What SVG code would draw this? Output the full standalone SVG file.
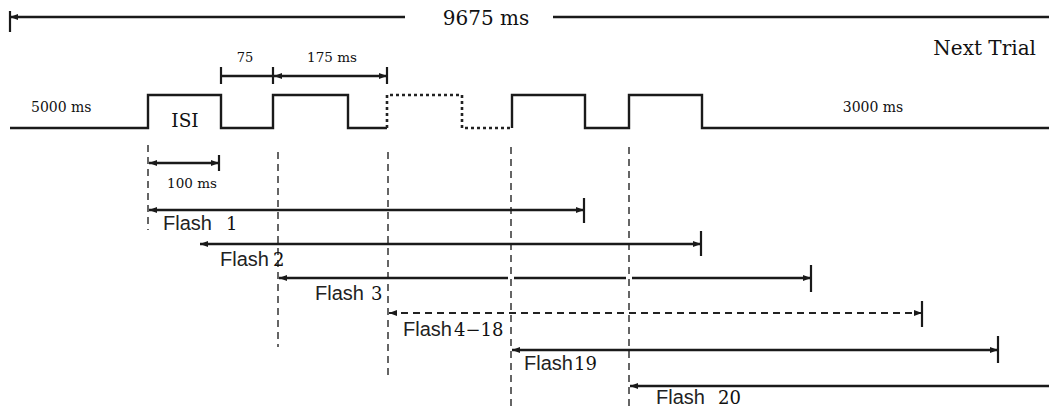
<svg xmlns="http://www.w3.org/2000/svg" width="1049" height="408" viewBox="0 0 1049 408">
<style>
.ln{stroke:#1a1a1a;stroke-width:2.3;fill:none}
.tk{stroke:#1a1a1a;stroke-width:2.2}
.wave{stroke:#1a1a1a;stroke-width:2.4;fill:none}
.dot{stroke:#222;stroke-width:2.6;fill:none;stroke-dasharray:3 3}
.vd{stroke:#333;stroke-width:1.5;stroke-dasharray:7 5}
.dl{stroke:#222;stroke-width:2;fill:none;stroke-dasharray:7 5}
.sf{font-family:"DejaVu Serif","Liberation Serif",serif;fill:#111}
.ss{font-family:"Liberation Sans",Arial,sans-serif;fill:#222;font-size:20px}
.nd{font-family:"DejaVu Serif","Liberation Serif",serif;fill:#111;font-size:18px}
</style>
<defs>
<marker id="ah" viewBox="0 0 8 6" refX="8" refY="3" markerWidth="8" markerHeight="6" markerUnits="userSpaceOnUse" orient="auto-start-reverse">
<path d="M0,0 L8,3 L0,6 z" fill="#1a1a1a"/>
</marker>
</defs>
<rect width="1049" height="408" fill="#fff"/>

<g id="total-span">
<line class="tk" x1="10" y1="11" x2="10" y2="32"/>
<line class="ln" x1="10" y1="17" x2="405" y2="17" marker-start="url(#ah)"/>
<line class="ln" x1="553" y1="17" x2="1049" y2="17"/>
<text class="sf" x="486" y="25" font-size="20" text-anchor="middle">9675 ms</text>
</g>
<g id="next-trial"><text class="sf" x="1036" y="55" font-size="20" text-anchor="end">Next Trial</text></g>

<g id="waveform">
<polyline class="wave" points="10,128 148,128 148,95 221,95 221,128 273,128 273,95 348,95 348,128 387,128"/>
<polyline class="dot" points="387,128 387,95 462,95 462,128 511,128"/>
<polyline class="wave" points="512,128 512,95 585,95 585,128 629,128 629,95 702,95 702,128 1049,128"/>
<text class="sf" x="31" y="112" font-size="14">5000 ms</text>
<text class="sf" x="185" y="127" font-size="18.5" text-anchor="middle">ISI</text>
<text class="sf" x="873" y="112" font-size="14" text-anchor="middle">3000 ms</text>
</g>

<g id="dim-75">
<line class="tk" x1="221" y1="67" x2="221" y2="84"/>
<line class="tk" x1="273" y1="67" x2="273" y2="84"/>
<line class="ln" x1="221" y1="76" x2="273" y2="76"/>
<text class="sf" x="245" y="62" font-size="13" text-anchor="middle">75</text>
</g>
<g id="dim-175">
<line class="tk" x1="387" y1="67" x2="387" y2="84"/>
<line class="ln" x1="274" y1="76" x2="387" y2="76" marker-start="url(#ah)" marker-end="url(#ah)"/>
<text class="sf" x="332" y="62" font-size="13.5" text-anchor="middle">175 ms</text>
</g>

<g id="guides">
<line class="vd" x1="148" y1="145" x2="148" y2="230"/>
<line class="vd" x1="278" y1="152" x2="278" y2="347"/>
<line class="vd" x1="388" y1="152" x2="388" y2="378"/>
<line class="vd" x1="511" y1="147" x2="511" y2="408"/>
<line class="vd" x1="629" y1="147" x2="629" y2="408"/>
</g>

<g id="dim-100">
<line class="tk" x1="219" y1="155" x2="219" y2="171"/>
<line class="ln" x1="149" y1="163" x2="219" y2="163" marker-start="url(#ah)" marker-end="url(#ah)"/>
<text class="sf" x="192" y="188" font-size="13.5" text-anchor="middle">100 ms</text>
</g>

<g id="connectors">
<g id="flash1-arrow">
<line class="ln" x1="149" y1="210" x2="584" y2="210" marker-start="url(#ah)" marker-end="url(#ah)"/>
<line class="tk" x1="584" y1="198" x2="584" y2="223"/>
</g>
<g id="flash2-arrow">
<line class="ln" x1="200" y1="244" x2="701" y2="244" marker-start="url(#ah)" marker-end="url(#ah)"/>
<line class="tk" x1="701" y1="231" x2="701" y2="256"/>
</g>
<g id="flash3-arrow">
<line class="ln" x1="279" y1="278" x2="508" y2="278" marker-start="url(#ah)"/>
<line class="ln" x1="514" y1="278" x2="626" y2="278"/>
<line class="ln" x1="632" y1="278" x2="811" y2="278" marker-end="url(#ah)"/>
<line class="tk" x1="811" y1="265" x2="811" y2="292"/>
</g>
<g id="flash4-18-arrow">
<line class="dl" x1="389" y1="313" x2="921" y2="313"/>
<path d="M389,313 L397,310 L397,316 z M922,313 L914,310 L914,316 z" fill="#1a1a1a"/>
<line class="tk" x1="922" y1="301" x2="922" y2="327"/>
</g>
<g id="flash19-arrow">
<line class="ln" x1="512" y1="350" x2="998" y2="350" marker-start="url(#ah)" marker-end="url(#ah)"/>
<line class="tk" x1="998" y1="336" x2="998" y2="363"/>
</g>
<g id="flash20-arrow">
<line class="ln" x1="630" y1="386" x2="1049" y2="386" marker-start="url(#ah)"/>
</g>
</g>

<g id="flash1"><text class="ss" x="163" y="230">Flash</text><text class="nd" x="226" y="230">1</text></g>
<g id="flash2"><text class="ss" x="220" y="266">Flash</text><text class="nd" x="273" y="266">2</text></g>
<g id="flash3"><text class="ss" x="315" y="300">Flash</text><text class="nd" x="371" y="300">3</text></g>
<g id="flash4-18"><text class="ss" x="403" y="336">Flash</text><text class="nd" x="454" y="336">4−18</text></g>
<g id="flash19"><text class="ss" x="524" y="370">Flash</text><text class="nd" x="574" y="370">19</text></g>
<g id="flash20"><text class="ss" x="656" y="404">Flash</text><text class="nd" x="718" y="404">20</text></g>
</svg>
